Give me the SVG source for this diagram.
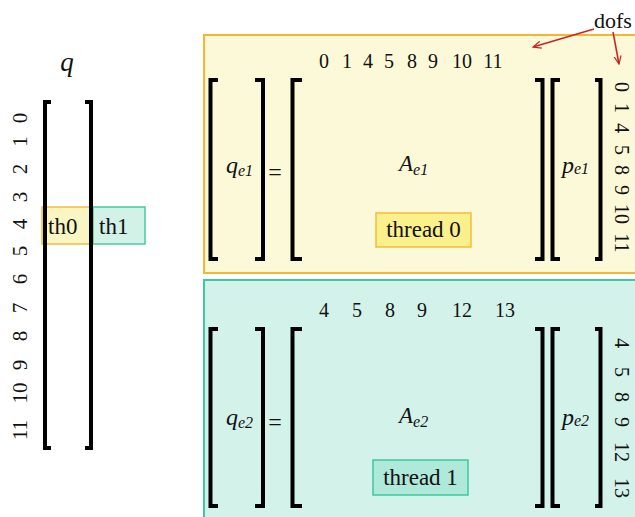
<svg xmlns="http://www.w3.org/2000/svg" width="635" height="517" viewBox="0 0 635 517" font-family="'Liberation Serif', 'DejaVu Serif', serif">
<defs>
<style>
text{font-family:'Liberation Serif','DejaVu Serif',serif;fill:#111}
.br{fill:none;stroke:#000;stroke-width:4;stroke-linejoin:miter}
.lbl{font-size:20px}
.rl{font-size:21px;text-anchor:middle}
.it{font-style:italic}
.big{font-size:24px}
.sub{font-size:16px}
.arr{stroke:#cc2222;stroke-width:1.5;fill:none}
</style>
<marker id="ah" viewBox="0 0 10 10" refX="9" refY="5" markerWidth="9" markerHeight="9" orient="auto" markerUnits="userSpaceOnUse">
<path d="M0,1 L9,5 L0,9" fill="none" stroke="#cc2222" stroke-width="1.3"/>
</marker>
</defs>
<rect width="635" height="517" fill="#fff"/>

<g id="q-vector">
<text x="67" y="71" class="it" font-size="27" text-anchor="middle">q</text>
<g id="th0"><rect x="42" y="207" width="51" height="37" fill="#f9f6c4" stroke="#f2bd3a" stroke-width="1.5"/><text x="48" y="234" font-size="23">th0</text></g>
<g id="th1"><rect x="93" y="207" width="52" height="37" fill="#d2f2e8" stroke="#46cba0" stroke-width="1.5"/><text x="99" y="234" font-size="23">th1</text></g>
<path class="br" d="M51,102 H45 V448 H51"/>
<path class="br" d="M85,102 H91 V448 H85"/>
<g transform="translate(27,275) rotate(-90)" class="rl">
<text><tspan x="-155">11</tspan><tspan x="-118">10</tspan><tspan x="-90">9</tspan><tspan x="-61">8</tspan><tspan x="-33">7</tspan><tspan x="-4">6</tspan><tspan x="24">5</tspan><tspan x="51">4</tspan><tspan x="78">3</tspan><tspan x="106">2</tspan><tspan x="133.5">1</tspan><tspan x="157">0</tspan></text>
</g>
</g>

<g id="panel-e1">
<rect x="204" y="35" width="440" height="238" fill="#fbf9d8" stroke="#f5b733" stroke-width="2"/>
<g class="lbl" text-anchor="middle">
<text y="68"><tspan x="324">0</tspan><tspan x="347">1</tspan><tspan x="368">4</tspan><tspan x="389">5</tspan><tspan x="412">8</tspan><tspan x="433">9</tspan><tspan x="462">10</tspan><tspan x="493">11</tspan></text>
</g>
<path class="br" d="M218,80 H210.5 V259 H218"/>
<path class="br" d="M255,80 H263 V259 H255"/>
<path class="br" d="M302,80 H292.5 V259 H302"/>
<path class="br" d="M535,80 H542.5 V259 H535"/>
<path class="br" d="M560,80 H552.5 V259 H560"/>
<path class="br" d="M595,80 H600.5 V259 H595"/>
<text x="226" y="173" class="it big">q<tspan class="sub" dy="3">e1</tspan></text>
<text x="275" y="180" font-size="24" text-anchor="middle">=</text>
<text x="399" y="171" class="it" font-size="23">A<tspan class="sub" dy="4">e1</tspan></text>
<text x="562" y="173" class="it big">p<tspan class="sub" dy="1">e1</tspan></text>
<g id="thread0"><rect x="376" y="213" width="95" height="34" fill="#faf08c" stroke="#f2bd3a" stroke-width="1.5"/><text x="423.5" y="237" font-size="23" text-anchor="middle">thread 0</text></g>
<g transform="translate(615,0) rotate(90)" class="lbl" text-anchor="middle">
<text><tspan x="87">0</tspan><tspan x="108">1</tspan><tspan x="128">4</tspan><tspan x="150">5</tspan><tspan x="170">8</tspan><tspan x="190">9</tspan><tspan x="214">10</tspan><tspan x="243">11</tspan></text>
</g>
</g>

<g id="panel-e2">
<rect x="204" y="280" width="440" height="250" fill="#d3f2ea" stroke="#3cc99b" stroke-width="2"/>
<g class="lbl" text-anchor="middle">
<text y="317"><tspan x="324">4</tspan><tspan x="357">5</tspan><tspan x="390">8</tspan><tspan x="422">9</tspan><tspan x="462">12</tspan><tspan x="505">13</tspan></text>
</g>
<path class="br" d="M218,329 H210.5 V506 H218"/>
<path class="br" d="M255,329 H263 V506 H255"/>
<path class="br" d="M302,329 H292.5 V506 H302"/>
<path class="br" d="M535,329 H542.5 V506 H535"/>
<path class="br" d="M560,329 H552.5 V506 H560"/>
<path class="br" d="M595,329 H600.5 V506 H595"/>
<text x="226" y="425" class="it big">q<tspan class="sub" dy="3">e2</tspan></text>
<text x="275" y="430" font-size="24" text-anchor="middle">=</text>
<text x="399" y="423" class="it" font-size="23">A<tspan class="sub" dy="4">e2</tspan></text>
<text x="562" y="425" class="it big">p<tspan class="sub" dy="1">e2</tspan></text>
<g id="thread1"><rect x="373" y="460" width="95" height="35" fill="#aee9d9" stroke="#3cc99b" stroke-width="1.5"/><text x="420.5" y="485" font-size="23" text-anchor="middle">thread 1</text></g>
<g transform="translate(615,0) rotate(90)" class="lbl" text-anchor="middle">
<text><tspan x="343">4</tspan><tspan x="372">5</tspan><tspan x="397">8</tspan><tspan x="422">9</tspan><tspan x="452">12</tspan><tspan x="488">13</tspan></text>
</g>
</g>

<g id="dofs">
<text x="594" y="28" font-size="22">dofs</text>
</g>
<g id="connectors">
<path class="arr" d="M594,29 L533,47" marker-end="url(#ah)"/>
<path class="arr" d="M613,32 L619,64" marker-end="url(#ah)"/>
</g>
</svg>
